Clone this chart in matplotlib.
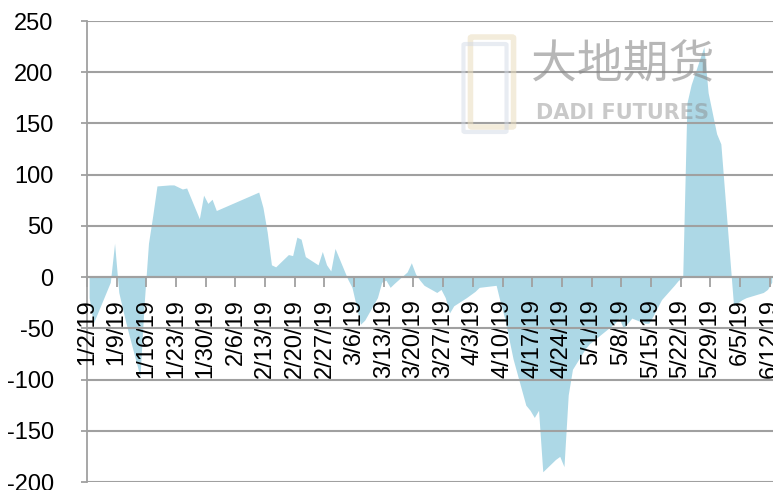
import matplotlib
matplotlib.use("Agg")
import matplotlib.pyplot as plt
from matplotlib.patches import FancyBboxPatch
import pandas as pd

# ---- data ----
dates = [
    "2019-01-02", "2019-01-03", "2019-01-04", "2019-01-07", "2019-01-08", "2019-01-09",
    "2019-01-10", "2019-01-11", "2019-01-14", "2019-01-15", "2019-01-16", "2019-01-17",
    "2019-01-18", "2019-01-21", "2019-01-22", "2019-01-23", "2019-01-24", "2019-01-25",
    "2019-01-28", "2019-01-29", "2019-01-30", "2019-01-31", "2019-02-01", "2019-02-11",
    "2019-02-12", "2019-02-13", "2019-02-14", "2019-02-15", "2019-02-18", "2019-02-19",
    "2019-02-20", "2019-02-21", "2019-02-22", "2019-02-25", "2019-02-26", "2019-02-27",
    "2019-02-28", "2019-03-01", "2019-03-04", "2019-03-05", "2019-03-06", "2019-03-07",
    "2019-03-08", "2019-03-11", "2019-03-12", "2019-03-13", "2019-03-14", "2019-03-15",
    "2019-03-18", "2019-03-19", "2019-03-20", "2019-03-21", "2019-03-22", "2019-03-25",
    "2019-03-26", "2019-03-27", "2019-03-28", "2019-03-29", "2019-04-01", "2019-04-02",
    "2019-04-03", "2019-04-04", "2019-04-08", "2019-04-09", "2019-04-10", "2019-04-11",
    "2019-04-12", "2019-04-15", "2019-04-16", "2019-04-17", "2019-04-18", "2019-04-19",
    "2019-04-22", "2019-04-23", "2019-04-24", "2019-04-25", "2019-04-26", "2019-04-29",
    "2019-04-30", "2019-05-06", "2019-05-07", "2019-05-08", "2019-05-09", "2019-05-10",
    "2019-05-13", "2019-05-14", "2019-05-15", "2019-05-16", "2019-05-17", "2019-05-20",
    "2019-05-21", "2019-05-22", "2019-05-23", "2019-05-24", "2019-05-27", "2019-05-28",
    "2019-05-29", "2019-05-30", "2019-05-31", "2019-06-03", "2019-06-04", "2019-06-05",
    "2019-06-06", "2019-06-10", "2019-06-11", "2019-06-12",
]
values = [
    -20, -45, -35, -5, 33, -15,
    -33, -50, -97, -25, 33, 60,
    89, 90, 90, 88, 86, 87,
    57, 80, 72, 76, 65, 83,
    68, 44, 12, 10, 22, 21,
    39, 37, 20, 12, 25, 12,
    6, 28, -2, -10, -28, -46,
    -42, -20, -5, -3, -10, -6,
    5, 14, 3, -3, -8, -15,
    -12, -20, -35, -28, -20, -17,
    -14, -10, -8, -25, -40, -60,
    -80, -125, -130, -137, -130, -190,
    -178, -175, -185, -115, -90, -70,
    -65, -45, -40, -50, -45, -40,
    -45, -45, -38, -30, -22, -8,
    -3, -1, 170, 188, 225, 180,
    160, 140, 130, -28, -25, -22,
    -20, -15, -12, -5,
]
tick_labels = ["1/2/19", "1/9/19", "1/16/19", "1/23/19", "1/30/19", "2/6/19",
               "2/13/19", "2/20/19", "2/27/19", "3/6/19", "3/13/19", "3/20/19",
               "3/27/19", "4/3/19", "4/10/19", "4/17/19", "4/24/19", "5/1/19",
               "5/8/19", "5/15/19", "5/22/19", "5/29/19", "6/5/19", "6/12/19"]
y_ticks = [-200, -150, -100, -50, 0, 50, 100, 150, 200, 250]

# ---- figure ----
W, H = 773, 490
fig = plt.figure(figsize=(W / 100, H / 100), dpi=100)
ax = fig.add_axes([87 / W, 8 / H, (W - 87) / W, (482 - 21) / H])

x = pd.to_datetime(dates) + pd.Timedelta(hours=12)   # points centred in day slot
ax.fill_between(x, values, 0, color="#ADD8E6", linewidth=0, zorder=1)

ax.set_xlim(pd.Timestamp("2019-01-02"), pd.Timestamp("2019-01-02") + pd.Timedelta(days=161.8))
ax.set_ylim(-200, 250)

tick_pos = pd.to_datetime(tick_labels, format="%m/%d/%y")
ax.set_xticks(tick_pos)
ax.set_xticklabels(tick_labels)
ax.set_yticks(y_ticks)
ax.set_yticklabels([str(v) for v in y_ticks])

grid_c = "#A0A0A0"
ax.grid(axis="y", color=grid_c, linewidth=1.5, zorder=2)
ax.set_axisbelow(False)
for s in ["top", "right"]:
    ax.spines[s].set_visible(False)
ax.spines["left"].set_color(grid_c)
ax.spines["left"].set_linewidth(1.3)
ax.spines["bottom"].set_position(("data", 0))
ax.spines["bottom"].set_color(grid_c)
ax.spines["bottom"].set_linewidth(1.5)
ax.tick_params(axis="x", direction="out", length=7, width=1.3, color=grid_c, pad=9,
               labelrotation=90, labelsize=17)
ax.tick_params(axis="y", direction="out", length=4, width=1.3, color=grid_c, pad=20,
               labelsize=17)
for lab in ax.get_xticklabels():
    lab.set_family("Liberation Sans")
    lab.set_va("top")
    lab.set_ha("center")
for lab in ax.get_yticklabels():
    lab.set_family("Liberation Sans")

# watermark (logo + text)
fig.patches.append(FancyBboxPatch((472 / W, 1 - 126 / H), 40 / W, 88 / H,
                                  boxstyle="round,pad=0.002", transform=fig.transFigure,
                                  fill=False, edgecolor="#EADDBE", linewidth=4, alpha=0.55,
                                  zorder=5))
fig.patches.append(FancyBboxPatch((465 / W, 1 - 131 / H), 40 / W, 86 / H,
                                  boxstyle="round,pad=0.002", transform=fig.transFigure,
                                  fill=False, edgecolor="#D3DAE6", linewidth=3, alpha=0.5,
                                  zorder=5))
fig.text(623 / W, 1 - 65 / H, "大地期货", family=["Noto Sans CJK SC", "DejaVu Sans"],
         fontsize=33, color="#888888", alpha=0.6, ha="center", va="center", zorder=5)
fig.text(623 / W, 1 - 113 / H, "DADI FUTURES", family="DejaVu Sans", weight="bold",
         fontsize=15, color="#888888", alpha=0.45, ha="center", va="center", zorder=5)

fig.savefig("out.png", dpi=100)
